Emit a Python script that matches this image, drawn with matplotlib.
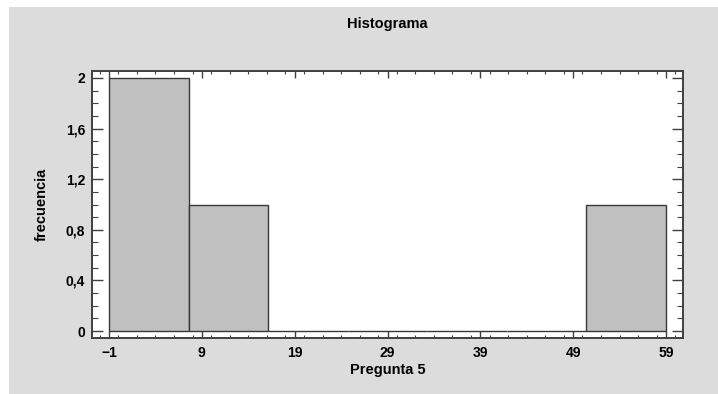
import matplotlib.pyplot as plt
from matplotlib.ticker import MultipleLocator, FuncFormatter
from matplotlib.patches import Rectangle
import numpy as np

plt.rcParams['font.family'] = ['Liberation Sans', 'DejaVu Sans']
plt.rcParams['font.weight'] = 'bold'

# datos del histograma
limite_inf = -1
limite_sup = 59
n_clases = 7
frecuencias = [2, 1, 0, 0, 0, 0, 1]
marcas_x = [-1, 9, 19, 29, 39, 49, 59]
marcas_y = [0, 0.4, 0.8, 1.2, 1.6, 2]

bordes = np.linspace(limite_inf, limite_sup, n_clases + 1)
ancho = bordes[1] - bordes[0]

fig = plt.figure(figsize=(7.18, 3.94), dpi=100, facecolor='white')
fondo = Rectangle((9 / 718, 0), 1 - 9 / 718, 1 - 7 / 394, transform=fig.transFigure,
                  facecolor='#dcdcdc', edgecolor='none', zorder=-10)
fig.patches.append(fondo)

ax = fig.add_axes([92 / 718, 1 - 338 / 394, (683 - 92) / 718, (338 - 71) / 394])
ax.set_facecolor('white')

ax.bar(bordes[:-1], frecuencias, width=ancho, align='edge', color='#c0c0c0',
       edgecolor='#383838', linewidth=1.0)

ax.set_xlim(-2.83, 60.83)
ax.set_ylim(-0.055, 2.055)
ax.set_xticks(marcas_x)
ax.set_yticks(marcas_y)
ax.xaxis.set_minor_locator(MultipleLocator(2))
ax.yaxis.set_minor_locator(MultipleLocator(0.1))

def coma(v, pos):
    s = ('%g' % v).replace('.', ',')
    return s

ax.yaxis.set_major_formatter(FuncFormatter(coma))

for s in ax.spines.values():
    s.set_color('#404040')
    s.set_linewidth(1.4)

ax.tick_params(axis='x', which='major', direction='in', length=5, width=1, color='#404040',
               top=True, bottom=True, pad=6, labelsize=10)
ax.tick_params(axis='x', which='minor', direction='in', length=2.5, width=0.8, color='#404040',
               top=True, bottom=True)
ax.tick_params(axis='y', which='major', direction='in', length=8, width=1, color='#404040',
               left=True, right=True, pad=5, labelsize=10)
ax.tick_params(axis='y', which='minor', direction='in', length=4.5, width=0.8, color='#404040',
               left=True, right=True)

for lab in ax.get_xticklabels() + ax.get_yticklabels():
    lab.set_fontweight('bold')

ax.set_xlabel('Pregunta 5', fontsize=10.5, fontweight='bold', labelpad=2)
ax.set_ylabel('frecuencia', fontsize=10.5, fontweight='bold', labelpad=12)
fig.text(387 / 718, 1 - 24 / 394, 'Histograma', ha='center', va='center',
         fontsize=10.5, fontweight='bold')

fig.savefig('out.png', dpi=100, facecolor=fig.get_facecolor())
